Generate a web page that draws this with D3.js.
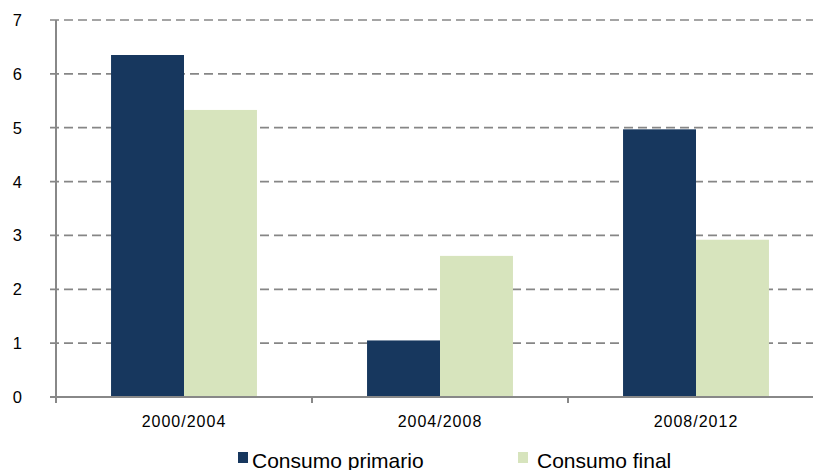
<!DOCTYPE html>
<html>
<head>
<meta charset="utf-8">
<script src="https://cdn.jsdelivr.net/npm/d3@7"></script>
<style>
  body { margin: 0; background: #fff; }
  svg { display: block; font-family: "Liberation Sans", Arial, sans-serif; }
</style>
</head>
<body>
<svg width="813" height="470"></svg>
<script>
// data
var periods = ["2000/2004", "2004/2008", "2008/2012"];
var primario = [6.35, 1.05, 4.97];
var final = [5.33, 2.62, 2.92];
var seriesNames = ["Consumo primario", "Consumo final"];
var seriesColors = ["#17375e", "#d7e4bd"];
var yTicks = [0, 1, 2, 3, 4, 5, 6, 7];

var svg = d3.select("svg");
var width = 813;

var x = d3.scaleBand()
  .domain(periods)
  .range([56, 824])
  .paddingInner(0.43)
  .paddingOuter(0.215);

var x1 = d3.scaleBand()
  .domain([0, 1])
  .range([0, x.bandwidth()]);

var y = d3.scaleLinear()
  .domain([0, 7])
  .range([397, 20]);

// dashed gridlines
svg.append("g")
  .selectAll("line")
  .data(yTicks.filter(function(d) { return d > 0; }))
  .enter()
  .append("line")
  .attr("x1", 50)
  .attr("x2", width)
  .attr("y1", function(d) { return y(d); })
  .attr("y2", function(d) { return y(d); })
  .attr("stroke", "#868686")
  .attr("stroke-width", 1.7)
  .attr("stroke-dasharray", "9,5");

// bars
var rows = periods.map(function(p, i) {
  return { period: p, values: [primario[i], final[i]] };
});

var groups = svg.append("g")
  .selectAll("g")
  .data(rows)
  .enter()
  .append("g")
  .attr("transform", function(d) { return "translate(" + x(d.period) + ",0)"; });

groups.selectAll("rect")
  .data(function(d) { return d.values; })
  .enter()
  .append("rect")
  .attr("x", function(d, i) { return x1(i); })
  .attr("width", x1.bandwidth())
  .attr("y", function(d) { return y(d); })
  .attr("height", function(d) { return y(0) - y(d); })
  .attr("fill", function(d, i) { return seriesColors[i]; });

// y axis
svg.append("line")
  .attr("x1", 56).attr("x2", 56)
  .attr("y1", y(7)).attr("y2", y(0))
  .attr("stroke", "#888").attr("stroke-width", 2);

svg.append("line")
  .attr("x1", 50).attr("x2", 56)
  .attr("y1", y(0)).attr("y2", y(0))
  .attr("stroke", "#888").attr("stroke-width", 2);

svg.append("g")
  .selectAll("text")
  .data(yTicks)
  .enter()
  .append("text")
  .attr("x", 22)
  .attr("y", function(d) { return y(d); })
  .attr("dy", "0.36em")
  .attr("text-anchor", "end")
  .attr("font-size", 16.5)
  .attr("fill", "#000")
  .text(function(d) { return d; });

// x axis
svg.append("line")
  .attr("x1", 56).attr("x2", width)
  .attr("y1", y(0)).attr("y2", y(0))
  .attr("stroke", "#888").attr("stroke-width", 2);

var step = x.step();
var bounds = periods.map(function(p) { return x(p) - x.paddingOuter() * step; });

svg.append("g")
  .selectAll("line")
  .data(bounds)
  .enter()
  .append("line")
  .attr("x1", function(d) { return d; })
  .attr("x2", function(d) { return d; })
  .attr("y1", y(0))
  .attr("y2", y(0) + 6)
  .attr("stroke", "#888").attr("stroke-width", 2);

svg.append("g")
  .selectAll("text")
  .data(periods)
  .enter()
  .append("text")
  .attr("x", function(d) { return x(d) + x.bandwidth() / 2; })
  .attr("y", 427)
  .attr("text-anchor", "middle")
  .attr("font-size", 16)
  .attr("letter-spacing", 1)
  .attr("fill", "#000")
  .text(function(d) { return d; });

// legend
var legendX = [238, 518];
var legend = svg.append("g")
  .selectAll("g")
  .data(seriesNames)
  .enter()
  .append("g")
  .attr("transform", function(d, i) { return "translate(" + legendX[i] + ",452)"; });

legend.append("rect")
  .attr("width", 10)
  .attr("height", 11)
  .attr("fill", function(d, i) { return seriesColors[i]; });

legend.append("text")
  .attr("x", function(d, i) { return i === 0 ? 14 : 19; })
  .attr("y", 15.5)
  .attr("font-size", 21)
  .attr("fill", "#000")
  .text(function(d) { return d; });
</script>
</body>
</html>
